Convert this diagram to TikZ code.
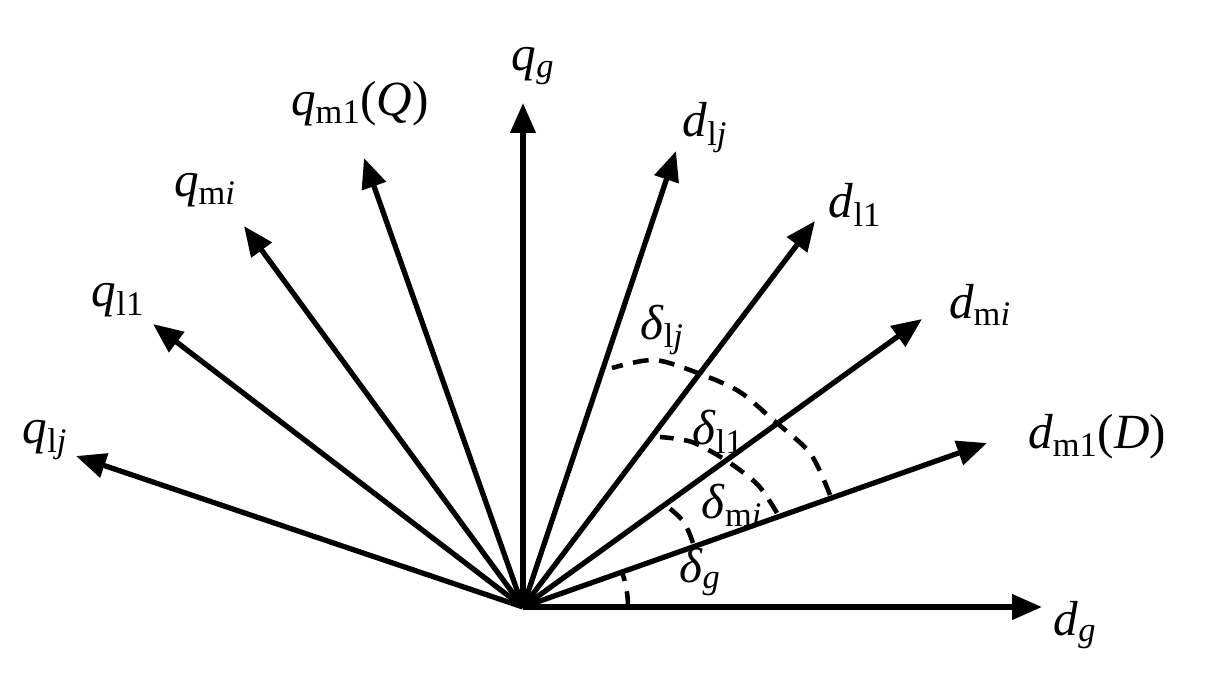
\documentclass[tikz,border=0pt]{standalone}
\usepackage{fontspec}
\setmainfont{Liberation Serif}
\usetikzlibrary{arrows.meta}
\begin{document}
\begin{tikzpicture}[x=0.02cm,y=-0.02cm,
  vec/.style={line width=3pt,-{Triangle[length=17pt,width=14pt]}},
  ang/.style={line width=2.6pt,dash pattern=on 9pt off 6pt},
  lab/.style={font=\fontsize{28}{30}\selectfont,inner sep=0pt}]
\useasboundingbox (0,0) rectangle (1205,677);
\coordinate (O) at (523,607);
\coordinate (dg) at (1042,607);
\coordinate (dm1) at (987,443);
\coordinate (dmi) at (922,319);
\coordinate (dl1) at (815,221);
\coordinate (dlj) at (676,151);
\coordinate (qg) at (523,103);
\coordinate (qm1) at (364,158);
\coordinate (qmi) at (244,226);
\coordinate (ql1) at (153,324);
\coordinate (qlj) at (76,456);
\foreach \t in {dg,dm1,dmi,dl1,dlj,qg,qm1,qmi,ql1,qlj} \draw[vec] (O) -- (\t);
\draw[ang] (628,607) arc[start angle=0,end angle=-19.5,radius=105];
\draw[ang] plot[smooth] coordinates {(693,543) (684,522) (668,507)};
\draw[ang] plot[smooth] coordinates {(777,513) (758,485) (727,461) (692,442) (660,437)};
\draw[ang] plot[smooth] coordinates {(830,495) (810,453) (772,419) (740,392) (703,375) (655,360) (612,368)};
\node[lab] (Lqg) at (533,66) {\textit{q}\textsubscript{\textit{g}}};
\node[lab] (Ldlj) at (705,128) {\textit{d}\textsubscript{l\textit{j}}};
\node[lab] (Lqm1) at (360,104) {\textit{q}\textsubscript{m1}(\textit{Q})};
\node[lab] (Ldl1) at (855,205) {\textit{d}\textsubscript{l1}};
\node[lab] (Lqmi) at (205,190) {\textit{q}\textsubscript{m\textit{i}}};
\node[lab] (Lql1) at (118,300) {\textit{q}\textsubscript{l1}};
\node[lab] (Ldmi) at (980,305) {\textit{d}\textsubscript{m\textit{i}}};
\node[lab] (Lqlj) at (45,440) {\textit{q}\textsubscript{l\textit{j}}};
\node[lab] (Ldm1) at (1097,437) {\textit{d}\textsubscript{m1}(\textit{D})};
\node[lab] (Ldg) at (1075,625) {\textit{d}\textsubscript{\textit{g}}};
\node[lab] (Slj) at (662,330) {\textit{δ}\textsubscript{l\textit{j}}};
\node[lab] (Sl1) at (718,432) {\textit{δ}\textsubscript{l1}};
\node[lab] (Smi) at (732,505) {\textit{δ}\textsubscript{m\textit{i}}};
\node[lab] (Sg) at (700,572) {\textit{δ}\textsubscript{\textit{g}}};
\end{tikzpicture}
\end{document}
